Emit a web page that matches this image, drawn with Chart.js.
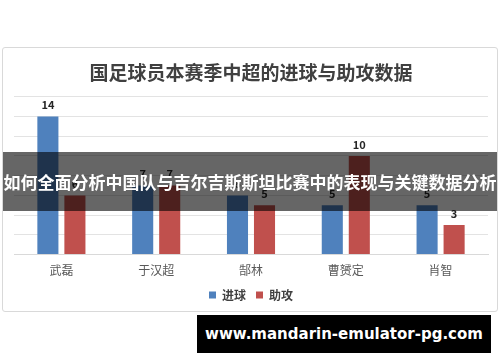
<!DOCTYPE html>
<html>
<head>
<meta charset="utf-8">
<script src="https://cdn.jsdelivr.net/npm/chart.js@4/dist/chart.umd.min.js"></script>
<style>
  html, body { margin: 0; padding: 0; background: #fff; }
  body { width: 500px; height: 362px; position: relative; overflow: hidden; }
  #box {
    position: absolute; left: 2px; top: 47px; width: 494px; height: 263px;
    border: 1px solid #d9d9d9; border-radius: 3px; background: #fff;
  }
  #banner {
    position: absolute; left: 3px; top: 152px; width: 494px; height: 59px;
    background: rgba(0, 0, 0, 0.6); color: #fff;
    font: bold 17px "Noto Sans CJK SC", sans-serif;
    line-height: 59px; text-align: center; white-space: nowrap;
  }
  #site {
    position: absolute; left: 197px; top: 315px; width: 294px; height: 38px;
    background: #000; color: #fff;
    font: bold 15px "DejaVu Sans", sans-serif;
    line-height: 38px; text-align: center; white-space: nowrap;
  }
</style>
</head>
<body>
<div id="box"><canvas id="chart" width="494" height="263"></canvas></div>
<div id="banner">如何全面分析中国队与吉尔吉斯斯坦比赛中的表现与关键数据分析</div>
<div id="site">www.mandarin-emulator-pg.com</div>

<script>
// chart data
const players = ['武磊', '于汉超', '郜林', '曹赟定', '肖智'];
const goals = [14, 7, 6, 5, 5];
const assists = [6, 7, 5, 10, 3];
const yTicksMax = 16;

// draw the value above every bar
const valueLabels = {
    id: 'valueLabels',
    afterDatasetsDraw(chart) {
        const ctx = chart.ctx;
        ctx.save();
        ctx.font = 'bold 11px "Noto Sans CJK SC", sans-serif';
        ctx.fillStyle = '#262626';
        ctx.textAlign = 'center';
        ctx.textBaseline = 'bottom';
        chart.data.datasets.forEach((ds, i) => {
            chart.getDatasetMeta(i).data.forEach((bar, j) => {
                ctx.fillText(ds.data[j], bar.x, bar.y - 6);
            });
        });
        ctx.restore();
    }
};

new Chart(document.getElementById('chart'), {
    type: 'bar',
    data: {
        labels: players,
        datasets: [
            { label: '进球', data: goals, backgroundColor: '#4F81BD' },
            { label: '助攻', data: assists, backgroundColor: '#C0504D' }
        ]
    },
    options: {
        responsive: false,
        animation: false,
        categoryPercentage: 0.57,
        barPercentage: 0.78,
        layout: { padding: { left: 11, right: 9, top: 0, bottom: 0 } },
        scales: {
            x: {
                grid: { display: false },
                border: { color: '#d9d9d9' },
                ticks: { color: '#595959', font: { size: 12, family: '"Noto Sans CJK SC", sans-serif' }, padding: 1 }
            },
            y: {
                min: 0,
                max: yTicksMax,
                ticks: { display: false, stepSize: 2 },
                grid: { color: '#e3e3e3', drawTicks: false },
                border: { display: false }
            }
        },
        plugins: {
            title: {
                display: true,
                text: '国足球员本赛季中超的进球与助攻数据',
                color: '#404040',
                font: { size: 19, weight: 'bold', family: '"Noto Sans CJK SC", sans-serif' },
                padding: { top: 13, bottom: 13 }
            },
            legend: {
                position: 'bottom',
                labels: {
                    boxWidth: 7,
                    boxHeight: 7,
                    color: '#404040',
                    font: { size: 12, weight: 'bold', family: '"Noto Sans CJK SC", sans-serif' },
                    padding: 10
                }
            },
            tooltip: { enabled: false }
        }
    },
    plugins: [valueLabels]
});
</script>
</body>
</html>
